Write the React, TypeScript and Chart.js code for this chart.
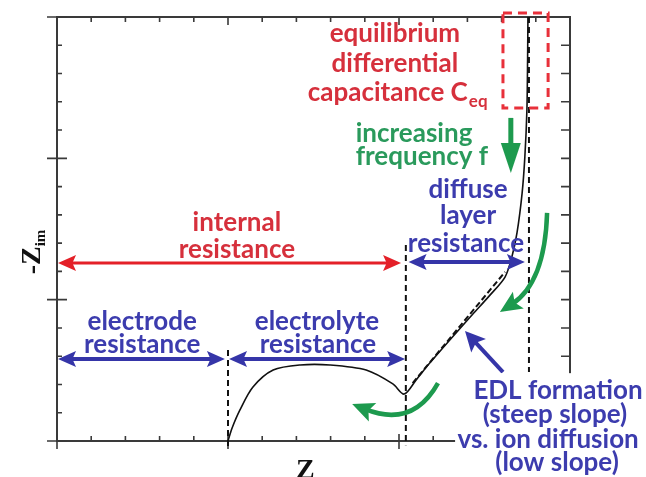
import React, { useEffect, useRef } from "react";
import { Chart, registerables } from "chart.js";
Chart.register(...registerables);

// Nyquist curve (Z_re, -Z_im) in axis units
const curveRe = [5.0, 5.12, 5.35, 5.73, 6.32, 7.11, 7.98, 9.04, 9.82, 10.15, 10.5, 10.88, 11.46, 12.16, 12.66, 13.1, 13.3, 13.45, 13.6, 13.68, 13.74, 13.76, 13.77];
const curveIm = [0.0, 0.46, 1.1, 1.91, 2.51, 2.69, 2.69, 2.51, 2.02, 1.66, 2.16, 2.73, 3.54, 4.49, 5.16, 5.8, 6.51, 7.36, 8.77, 10.05, 11.71, 13.48, 15.0];
// ideal linear (dashed) segment
const idealRe = [10.4, 13.1];
const idealIm = [2.05, 5.98];
// vertical dashed boundaries
const boundaryRe = [5.0, 10.2, 13.8];
const boundaryTop = [3.22, 6.93, 15.0];
const boundaryBottom = [-0.2, -0.15, 2.44];
// axis ticks
const tickValues = [0, 1, 2, 3, 4, 5, 6, 7, 8, 9, 10, 11, 12, 13, 14, 15];
const majorTicks = [0, 5, 10, 15];

const RED = "#e42028";
const RED_T = "#d6303c";
const BLUE = "#3535a8";
const BLUE_T = "#3c3cae";
const GREEN = "#1d9a4e";
const GREEN_T = "#2a9a5c";
const FONT = "bold 26px Lato";
const SUBFONT = "bold 17px Lato";

const spans = [
  { x0: 0.03, x1: 10.06, y: 6.3, color: RED },
  { x0: 10.28, x1: 13.68, y: 6.33, color: BLUE },
  { x0: 0.03, x1: 4.91, y: 2.9, color: BLUE },
  { x0: 5.03, x1: 10.18, y: 2.9, color: BLUE },
];

const labels = [
  { t: "equilibrium", x: 9.88, y: 14.4, c: RED_T },
  { t: "differential", x: 9.88, y: 13.34, c: RED_T },
  { t: "capacitance C", sub: "eq", x: 9.96, y: 12.31, c: RED_T },
  { t: "increasing", x: 10.44, y: 10.89, c: GREEN_T },
  { t: "frequency f", x: 10.67, y: 10.05, c: GREEN_T },
  { t: "diffuse", x: 12.02, y: 8.88, c: BLUE_T },
  { t: "layer", x: 12.02, y: 7.99, c: BLUE_T },
  { t: "resistance", x: 11.96, y: 7.0, c: BLUE_T },
  { t: "internal", x: 5.26, y: 7.71, c: RED_T },
  { t: "resistance", x: 5.26, y: 6.76, c: RED_T },
  { t: "electrode", x: 2.49, y: 4.21, c: BLUE_T },
  { t: "resistance", x: 2.49, y: 3.4, c: BLUE_T },
  { t: "electrolyte", x: 7.6, y: 4.21, c: BLUE_T },
  { t: "resistance", x: 7.63, y: 3.4, c: BLUE_T },
  { t: "EDL formation", x: 14.65, y: 1.8, c: BLUE_T },
  { t: "(steep slope)", x: 14.56, y: 0.92, c: BLUE_T },
  { t: "vs. ion diffusion", x: 14.36, y: 0.04, c: BLUE_T },
  { t: "(low slope)", x: 14.62, y: -0.78, c: BLUE_T },
];

function head(ctx: CanvasRenderingContext2D, tx: number, ty: number, ang: number, len: number, hw: number, color: string) {
  ctx.save();
  ctx.translate(tx, ty);
  ctx.rotate(ang);
  ctx.beginPath();
  ctx.moveTo(0, 0);
  ctx.lineTo(-len, -hw);
  ctx.lineTo(-len * 0.8, 0);
  ctx.lineTo(-len, hw);
  ctx.closePath();
  ctx.fillStyle = color;
  ctx.fill();
  ctx.restore();
}

const overlay = {
  id: "overlay",
  beforeDatasetsDraw(chart: any) {
    const { ctx, chartArea: a, scales } = chart;
    const xs = scales.x, ys = scales.y;
    ctx.save();
    ctx.strokeStyle = "#3a3a3a";
    ctx.lineWidth = 2;
    ctx.strokeRect(a.left, a.top, a.right - a.left, a.bottom - a.top);
    ctx.lineWidth = 1.6;
    ctx.beginPath();
    for (const v of tickValues) {
      const major = majorTicks.includes(v);
      const px = xs.getPixelForValue(v);
      const py = ys.getPixelForValue(v);
      ctx.moveTo(px, a.bottom - (major ? 7 : 5));
      ctx.lineTo(px, a.bottom + (major ? 8 : 0));
      ctx.moveTo(px, a.top);
      ctx.lineTo(px, a.top + (major ? 8 : 5));
      ctx.moveTo(a.left - (major ? 10 : 0), py);
      ctx.lineTo(a.left + (major ? 10 : 5), py);
      ctx.moveTo(a.right, py);
      ctx.lineTo(a.right - 9, py);
    }
    ctx.stroke();
    ctx.restore();
  },
  afterDatasetsDraw(chart: any) {
    const { ctx, scales, width, height } = chart;
    const X = (v: number) => scales.x.getPixelForValue(v);
    const Y = (v: number) => scales.y.getPixelForValue(v);
    ctx.save();
    for (const s of spans) {
      const x0 = X(s.x0), x1 = X(s.x1), y = Y(s.y);
      ctx.strokeStyle = s.color;
      ctx.lineWidth = s.color === RED ? 3 : 4;
      ctx.beginPath();
      ctx.moveTo(x0 + 10, y);
      ctx.lineTo(x1 - 10, y);
      ctx.stroke();
      head(ctx, x1, y, 0, 18, 8, s.color);
      head(ctx, x0, y, Math.PI, 18, 8, s.color);
    }
    ctx.strokeStyle = "#e8303a";
    ctx.lineWidth = 3;
    ctx.setLineDash([9, 6]);
    ctx.strokeRect(X(13.04), Y(15.14), X(14.36) - X(13.04), Y(11.78) - Y(15.14));
    ctx.setLineDash([]);
    {
      const x = X(13.27), y0 = Y(11.43), y1 = Y(9.48);
      ctx.strokeStyle = GREEN;
      ctx.lineWidth = 5;
      ctx.beginPath();
      ctx.moveTo(x, y0);
      ctx.lineTo(x, y1 - 20);
      ctx.stroke();
      ctx.beginPath();
      ctx.moveTo(x, y1);
      ctx.lineTo(x - 10, y1 - 30);
      ctx.lineTo(x + 10, y1 - 30);
      ctx.closePath();
      ctx.fillStyle = GREEN;
      ctx.fill();
    }
    const curved = [
      { s: [14.33, 8.07], c: [14.27, 5.6], e: [12.95, 4.56] },
      { s: [11.14, 2.05], c: [10.4, 0.45], e: [8.63, 1.31] },
    ];
    for (const g of curved) {
      const sx = X(g.s[0]), sy = Y(g.s[1]), cx = X(g.c[0]), cy = Y(g.c[1]), ex = X(g.e[0]), ey = Y(g.e[1]);
      const ang = Math.atan2(ey - cy, ex - cx);
      ctx.strokeStyle = GREEN;
      ctx.lineWidth = 4.5;
      ctx.beginPath();
      ctx.moveTo(sx, sy);
      ctx.quadraticCurveTo(cx, cy, ex - Math.cos(ang) * 14, ey - Math.sin(ang) * 14);
      ctx.stroke();
      head(ctx, ex, ey, ang, 22, 10, GREEN);
    }
    {
      const sx = X(13.04), sy = Y(2.44), ex = X(11.93), ey = Y(3.89);
      const ang = Math.atan2(ey - sy, ex - sx);
      ctx.strokeStyle = BLUE;
      ctx.lineWidth = 4;
      ctx.beginPath();
      ctx.moveTo(sx, sy);
      ctx.lineTo(ex - Math.cos(ang) * 14, ey - Math.sin(ang) * 14);
      ctx.stroke();
      head(ctx, ex, ey, ang, 20, 10, BLUE);
    }
    ctx.fillStyle = "#ffffff";
    ctx.fillRect(X(11.64), Y(2.4), width - X(11.64), height - Y(2.4));
    ctx.textBaseline = "middle";
    for (const l of labels) {
      ctx.font = FONT;
      ctx.fillStyle = l.c;
      const w = ctx.measureText(l.t).width;
      let sw = 0;
      if (l.sub) {
        ctx.font = SUBFONT;
        sw = ctx.measureText(l.sub).width + 1;
      }
      const x0 = X(l.x) - (w + sw) / 2;
      const y = Y(l.y);
      ctx.font = FONT;
      ctx.textAlign = "left";
      ctx.fillText(l.t, x0, y);
      if (l.sub) {
        ctx.font = SUBFONT;
        ctx.fillText(l.sub, x0 + w + 1, y + 8);
      }
    }
    ctx.fillStyle = "#111";
    ctx.save();
    ctx.translate(30, 252);
    ctx.rotate(-Math.PI / 2);
    ctx.font = "bold 28px 'Liberation Serif'";
    ctx.textAlign = "left";
    ctx.textBaseline = "alphabetic";
    const zw = ctx.measureText("-Z").width;
    ctx.font = "bold 15px 'Liberation Serif'";
    const iw = ctx.measureText("im").width;
    ctx.font = "bold 28px 'Liberation Serif'";
    ctx.fillText("-Z", -(zw + iw) / 2, 10);
    ctx.font = "bold 15px 'Liberation Serif'";
    ctx.fillText("im", -(zw + iw) / 2 + zw, 15);
    ctx.restore();
    ctx.font = "bold 28px 'Liberation Serif'";
    ctx.textAlign = "left";
    ctx.textBaseline = "alphabetic";
    ctx.fillText("Z", 296, 478);
    ctx.font = "bold 15px 'Liberation Serif'";
    ctx.fillText("re", 316, 484);
    ctx.restore();
  },
};

export default function App() {
  const ref = useRef<HTMLCanvasElement>(null);
  useEffect(() => {
    if (!ref.current) return;
    const boundaries = boundaryRe.map((x, i) => ({
      data: [
        { x, y: boundaryTop[i] },
        { x, y: boundaryBottom[i] },
      ],
      borderColor: "#111",
      borderWidth: 2,
      borderDash: [6, 4],
      showLine: true,
      pointRadius: 0,
      clip: false as any,
    }));
    const chart = new Chart(ref.current, {
      type: "scatter",
      data: {
        datasets: [
          ...boundaries,
          {
            data: idealRe.map((x, i) => ({ x, y: idealIm[i] })),
            borderColor: "#111",
            borderWidth: 2,
            borderDash: [6, 3],
            showLine: true,
            pointRadius: 0,
          },
          {
            data: curveRe.map((x, i) => ({ x, y: curveIm[i] })),
            borderColor: "#111",
            borderWidth: 1.6,
            showLine: true,
            pointRadius: 0,
            tension: 0.3,
            clip: false as any,
          },
        ],
      },
      options: {
        animation: false,
        responsive: false,
        layout: { padding: { left: 57, right: 76, top: 17, bottom: 36 } },
        plugins: { legend: { display: false }, tooltip: { enabled: false } },
        scales: {
          x: { type: "linear", min: 0, max: 15, display: false },
          y: { type: "linear", min: 0, max: 15, display: false },
        },
      },
      plugins: [overlay],
    });
    return () => chart.destroy();
  }, []);
  return (
    <div style={{ position: "absolute", left: 0, top: 0, width: 646, height: 477, background: "#fff" }}>
      <canvas ref={ref} width={646} height={477} style={{ width: 646, height: 477 }} />
    </div>
  );
}
